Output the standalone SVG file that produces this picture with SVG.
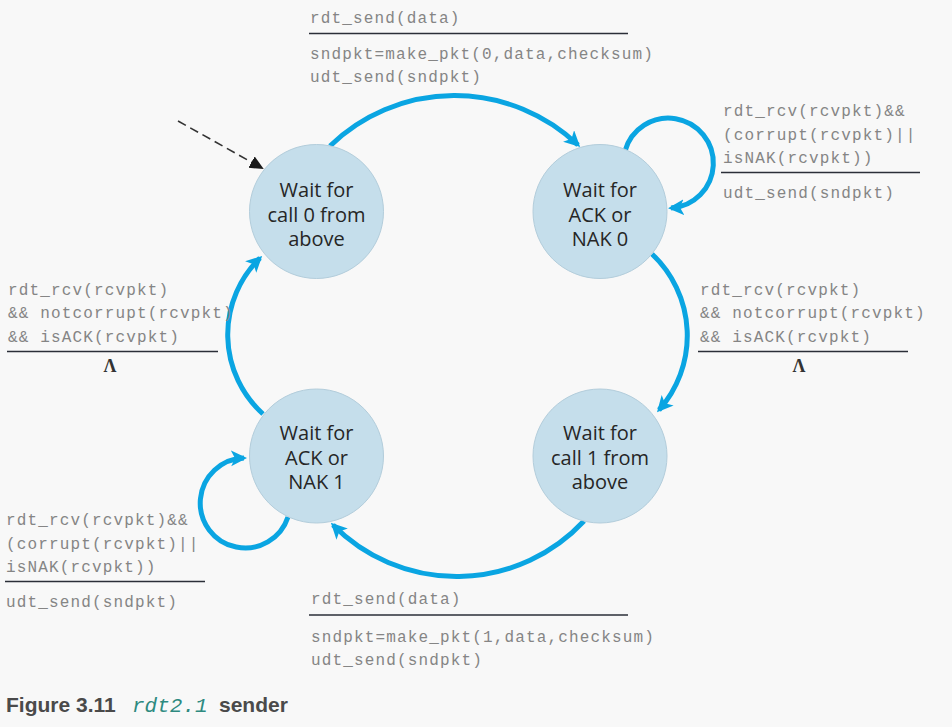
<svg xmlns="http://www.w3.org/2000/svg" width="952" height="727" viewBox="0 0 952 727">
<defs>
<style>
.bg{fill:#f8f8f8}
.node circle{fill:#c5deeb;stroke:#b3cddb;stroke-width:1}
.node text{font-family:"Open Sans","Noto Sans",sans-serif;font-size:20px;fill:#262626;text-anchor:middle}
.lbl{font-family:"Liberation Mono","DejaVu Sans Mono",monospace;font-size:16px;letter-spacing:1.15px;fill:#858585}
.rule{stroke:#2b2f38;stroke-width:1.6}
.lam{font-family:"Liberation Serif",serif;font-size:18px;font-weight:bold;fill:#333;text-anchor:middle}
.edge{fill:none;stroke:#0aa5e2;stroke-width:5;marker-end:url(#ah)}
.init{fill:none;stroke:#333;stroke-width:1.6;stroke-dasharray:9 5;marker-end:url(#ahk)}
.cap{font-family:"Liberation Sans",Arial,sans-serif;font-size:21px;font-weight:bold;fill:#4a4a4a}
.capm{font-family:"Liberation Mono",monospace;font-size:21px;font-style:italic;fill:#2e8a80}
</style>
<marker id="ah" markerUnits="userSpaceOnUse" markerWidth="22" markerHeight="22" refX="13" refY="8" orient="auto">
<path d="M0,0 L16,8 L0,16 L4,8 Z" fill="#0aa5e2"/>
</marker>
<marker id="ahk" markerUnits="userSpaceOnUse" markerWidth="18" markerHeight="18" refX="12" refY="6.5" orient="auto">
<path d="M0,0 L14,6.5 L0,13 Z" fill="#1a1a1a"/>
</marker>
</defs>
<rect class="bg" x="0" y="0" width="952" height="727"/>

<g id="connectors">
<path id="init" class="init" d="M178,121 L262,168"/>
<path id="e1" class="edge" d="M330,146 A179,179 0 0 1 578,145"/>
<path id="e2" class="edge" d="M652,254 A112,112 0 0 1 659,410"/>
<path id="e3" class="edge" d="M584,521 A174,174 0 0 1 333,525"/>
<path id="e4" class="edge" d="M263,414 A107,107 0 0 1 260,258"/>
<path id="loop0" class="edge" d="M625,151 A45,45 0 1 1 671,208"/>
<path id="loop1" class="edge" d="M288,517 A45,45 0 1 1 244,458"/>
</g>

<g id="n0" class="node">
<circle cx="316.5" cy="211.5" r="67"/>
<text x="316.5" y="197">Wait for<tspan x="316.5" dy="24.5">call 0 from</tspan><tspan x="316.5" dy="24.5">above</tspan></text>
</g>
<g id="n1" class="node">
<circle cx="600" cy="211.5" r="67"/>
<text x="600" y="197">Wait for<tspan x="600" dy="24.5">ACK or</tspan><tspan x="600" dy="24.5">NAK 0</tspan></text>
</g>
<g id="n2" class="node">
<circle cx="600" cy="456" r="67"/>
<text x="600" y="440">Wait for<tspan x="600" dy="24.5">call 1 from</tspan><tspan x="600" dy="24.5">above</tspan></text>
</g>
<g id="n3" class="node">
<circle cx="316.5" cy="456" r="67"/>
<text x="316.5" y="440">Wait for<tspan x="316.5" dy="24.5">ACK or</tspan><tspan x="316.5" dy="24.5">NAK 1</tspan></text>
</g>

<g id="lbl-top">
<text class="lbl" x="310" y="23">rdt_send(data)</text>
<line class="rule" x1="309" y1="33.5" x2="628" y2="33.5"/>
<text class="lbl" x="310" y="59">sndpkt=make_pkt(0,data,checksum)</text>
<text class="lbl" x="310" y="82">udt_send(sndpkt)</text>
</g>
<g id="lbl-loop0">
<text class="lbl" x="723" y="116">rdt_rcv(rcvpkt)&amp;&amp;</text>
<text class="lbl" x="723" y="140">(corrupt(rcvpkt)||</text>
<text class="lbl" x="723" y="163">isNAK(rcvpkt))</text>
<line class="rule" x1="721" y1="172.5" x2="920" y2="172.5"/>
<text class="lbl" x="723" y="198">udt_send(sndpkt)</text>
</g>
<g id="lbl-right">
<text class="lbl" x="700" y="295">rdt_rcv(rcvpkt)</text>
<text class="lbl" x="700" y="318">&amp;&amp; notcorrupt(rcvpkt)</text>
<text class="lbl" x="700" y="342">&amp;&amp; isACK(rcvpkt)</text>
<line class="rule" x1="698" y1="351.5" x2="908" y2="351.5"/>
<text class="lam" x="799" y="372">Λ</text>
</g>
<g id="lbl-left">
<text class="lbl" x="8" y="295">rdt_rcv(rcvpkt)</text>
<text class="lbl" x="8" y="318">&amp;&amp; notcorrupt(rcvpkt)</text>
<text class="lbl" x="8" y="342">&amp;&amp; isACK(rcvpkt)</text>
<line class="rule" x1="7" y1="351.5" x2="218" y2="351.5"/>
<text class="lam" x="110" y="372">Λ</text>
</g>
<g id="lbl-loop1">
<text class="lbl" x="6" y="525">rdt_rcv(rcvpkt)&amp;&amp;</text>
<text class="lbl" x="6" y="549">(corrupt(rcvpkt)||</text>
<text class="lbl" x="6" y="572">isNAK(rcvpkt))</text>
<line class="rule" x1="5" y1="581.5" x2="205" y2="581.5"/>
<text class="lbl" x="6" y="607">udt_send(sndpkt)</text>
</g>
<g id="lbl-bottom">
<text class="lbl" x="311" y="604">rdt_send(data)</text>
<line class="rule" x1="309" y1="615" x2="628" y2="615"/>
<text class="lbl" x="311" y="642">sndpkt=make_pkt(1,data,checksum)</text>
<text class="lbl" x="311" y="665">udt_send(sndpkt)</text>
</g>

<g id="caption">
<text class="cap" x="6" y="712">Figure 3.11</text>
<text class="capm" x="132" y="712">rdt2.1</text>
<text class="cap" x="219" y="712">sender</text>
</g>
</svg>
